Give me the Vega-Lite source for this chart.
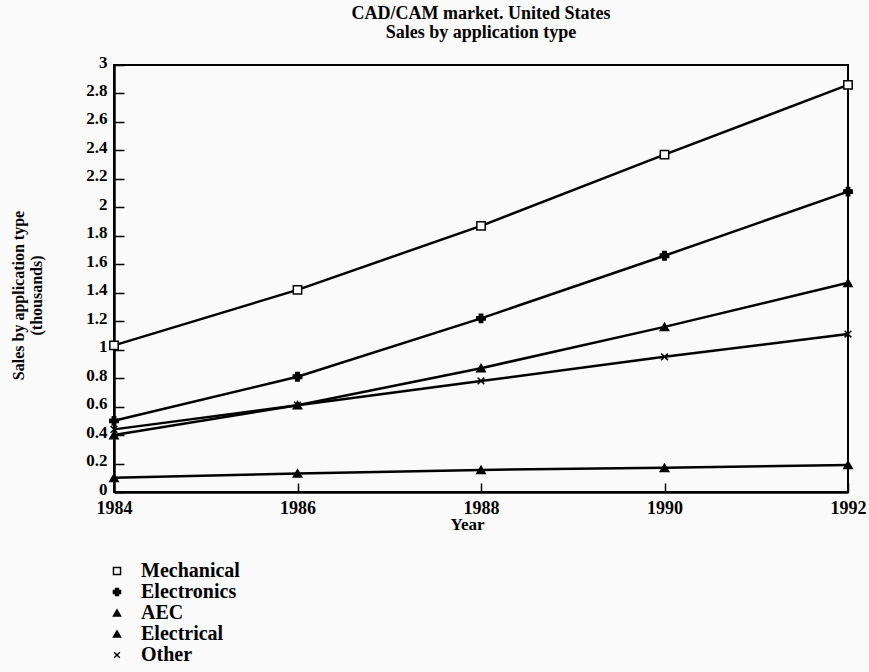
{
  "$schema": "https://vega.github.io/schema/vega-lite/v6.json",
  "autosize": {"type": "none"},
  "padding": {"left": 114, "top": 65, "right": 21, "bottom": 180},
  "width": 734,
  "height": 427,
  "background": "#fafafa",
  "title": {
    "text": ["CAD/CAM market. United States", "Sales by application type"],
    "font": "Liberation Serif",
    "fontSize": 18,
    "fontWeight": "bold",
    "lineHeight": 19,
    "anchor": "middle",
    "offset": 11,
    "color": "black"
  },
  "config": {
    "view": {"stroke": "black", "strokeWidth": 2},
    "font": "Liberation Serif",
    "axis": {
      "labelFont": "Liberation Serif",
      "labelFontWeight": "bold",
      "labelColor": "black",
      "titleFont": "Liberation Serif",
      "titleFontWeight": "bold",
      "titleColor": "black",
      "domainColor": "black",
      "domainWidth": 2.5,
      "tickColor": "black",
      "tickWidth": 1.5,
      "grid": false
    }
  },
  "data": {
    "values": [
      {"series": "Mechanical", "year": 1984, "value": 1.03},
      {"series": "Mechanical", "year": 1986, "value": 1.42},
      {"series": "Mechanical", "year": 1988, "value": 1.87},
      {"series": "Mechanical", "year": 1990, "value": 2.37},
      {"series": "Mechanical", "year": 1992, "value": 2.86},
      {"series": "Electronics", "year": 1984, "value": 0.5},
      {"series": "Electronics", "year": 1986, "value": 0.81},
      {"series": "Electronics", "year": 1988, "value": 1.22},
      {"series": "Electronics", "year": 1990, "value": 1.66},
      {"series": "Electronics", "year": 1992, "value": 2.11},
      {"series": "AEC", "year": 1984, "value": 0.4},
      {"series": "AEC", "year": 1986, "value": 0.61},
      {"series": "AEC", "year": 1988, "value": 0.87},
      {"series": "AEC", "year": 1990, "value": 1.16},
      {"series": "AEC", "year": 1992, "value": 1.47},
      {"series": "Electrical", "year": 1984, "value": 0.1},
      {"series": "Electrical", "year": 1986, "value": 0.13},
      {"series": "Electrical", "year": 1988, "value": 0.155},
      {"series": "Electrical", "year": 1990, "value": 0.17},
      {"series": "Electrical", "year": 1992, "value": 0.19},
      {"series": "Other", "year": 1984, "value": 0.44},
      {"series": "Other", "year": 1986, "value": 0.61},
      {"series": "Other", "year": 1988, "value": 0.78},
      {"series": "Other", "year": 1990, "value": 0.95},
      {"series": "Other", "year": 1992, "value": 1.11}
    ]
  },
  "encoding": {
    "x": {
      "field": "year",
      "type": "quantitative",
      "scale": {"domain": [1984, 1992], "nice": false, "zero": false},
      "axis": {
        "title": "Year",
        "titleFontSize": 17,
        "titleX": 353,
        "titleY": 32,
        "titleBaseline": "middle",
        "titleAlign": "center",
        "values": [1984, 1986, 1988, 1990, 1992],
        "format": "d",
        "labelFontSize": 18,
        "tickSize": -9,
        "labelPadding": 16,
        "labelFlush": false
      }
    },
    "y": {
      "field": "value",
      "type": "quantitative",
      "scale": {"domain": [0, 3], "nice": false},
      "axis": {
        "title": ["Sales by application type", "(thousands)"],
        "titleFontSize": 16,
        "titleLineHeight": 18,
        "titleAngle": -90,
        "titleX": -88,
        "titleY": 230,
        "titleAlign": "center",
        "titleBaseline": "bottom",
        "values": [0, 0.2, 0.4, 0.6, 0.8, 1, 1.2, 1.4, 1.6, 1.8, 2, 2.2, 2.4, 2.6, 2.8, 3],
        "format": "~g",
        "labelFontSize": 17,
        "labelOffset": -3,
        "tickSize": -10,
        "labelPadding": 17
      }
    }
  },
  "layer": [
    {
      "mark": {"type": "line", "color": "black", "strokeWidth": 2.5},
      "encoding": {"detail": {"field": "series"}}
    },
    {
      "mark": {"type": "point", "strokeWidth": 1.5, "opacity": 1, "filled": false},
      "encoding": {
        "shape": {
          "field": "series",
          "type": "nominal",
          "scale": {
            "domain": ["Mechanical", "Electronics", "AEC", "Electrical", "Other"],
            "range": ["square", "cross", "triangle-up", "triangle-up", "M-0.8,-0.8L0.8,0.8M0.8,-0.8L-0.8,0.8"]
          },
          "legend": {
            "title": null,
            "orient": "none",
            "legendX": -7,
            "legendY": 496,
            "padding": 0,
            "direction": "vertical",
            "labelFont": "Liberation Serif",
            "labelFontWeight": "bold",
            "labelFontSize": 20,
            "labelColor": "black",
            "rowPadding": 1,
            "symbolSize": 50,
            "symbolStrokeWidth": 1.5,
            "labelOffset": 14
          }
        },
        "fill": {
          "field": "series",
          "type": "nominal",
          "scale": {
            "domain": ["Mechanical", "Electronics", "AEC", "Electrical", "Other"],
            "range": ["white", "black", "black", "black", "black"]
          },
          "legend": null
        },
        "stroke": {
          "field": "series",
          "type": "nominal",
          "scale": {
            "domain": ["Mechanical", "Electronics", "AEC", "Electrical", "Other"],
            "range": ["black", "black", "black", "black", "black"]
          },
          "legend": null
        },
        "size": {"value": 70}
      }
    }
  ]
}
